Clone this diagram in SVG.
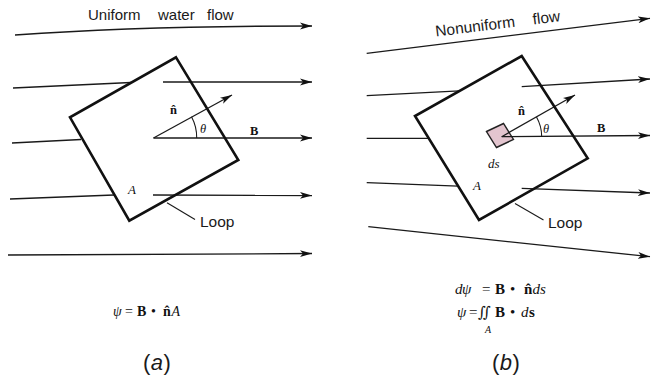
<svg xmlns="http://www.w3.org/2000/svg" width="651" height="376" viewBox="0 0 651 376">
<defs>
<style>
.fl{fill:none;stroke:#1a1a1a;stroke-width:1.3}
.ar{marker-end:url(#ah)}
.loop{fill:none;stroke:#111;stroke-width:2.6;stroke-linejoin:miter}
.thin{fill:none;stroke:#1a1a1a;stroke-width:1.1}
.sans{font-family:"Liberation Sans",Arial,sans-serif;fill:#1a1a1a}
.ser{font-family:"Liberation Serif","DejaVu Serif",serif;fill:#111}
.b{font-weight:bold}
.i{font-style:italic}
</style>
<marker id="ah" markerWidth="13" markerHeight="8" refX="12" refY="4" orient="auto" markerUnits="userSpaceOnUse">
<path d="M0,0.6 L12,4 L0,7.4 L3,4 Z" fill="#111"/>
</marker>
</defs>
<rect width="651" height="376" fill="#fff"/>

<!-- Panel (a) -->
<g id="connectors-a">
<path class="fl ar" d="M15,35 Q140,26 312,26"/>
<path class="fl" d="M13,88 L131,82.5"/>
<path class="fl ar" d="M163,82 L312,82"/>
<path class="fl" d="M12,143 L81,139.5"/>
<path class="fl ar" d="M153.5,138 L312,138"/>
<path class="fl" d="M10,199 L114,195"/>
<path class="fl ar" d="M153,195 L312,195.5"/>
<path class="fl ar" d="M8,255 L312,253.5"/>
<path class="fl ar" d="M153.5,138 L232,95"/>
<path class="thin" d="M191.5,116.7 A43.4,43.4 0 0 1 196.7,138"/>
<path class="thin" d="M167,202.7 L195,219.5"/>
</g>
<g id="loop-a">
<polygon class="loop" points="176,57.3 238.3,160 129.3,220.7 70,117.3"/>
</g>
<g id="labels-a">
<text class="sans" font-size="15" y="20"><tspan x="88">Uniform</tspan><tspan x="158">water</tspan><tspan x="207">flow</tspan></text>
<text class="ser b" font-size="12.5" x="170" y="113.5">n̂</text>
<text class="ser i" font-size="12.5" x="200" y="133">θ</text>
<text class="ser b" font-size="12.5" x="250" y="135">B</text>
<text class="ser i" font-size="13" x="128" y="193.5">A</text>
<text class="sans" font-size="15.5" x="200" y="227">Loop</text>
<text class="ser" font-size="14" y="316"><tspan class="i" x="113">ψ</tspan><tspan x="125">=</tspan><tspan class="b" x="137">B</tspan><tspan x="151">•</tspan><tspan class="b" x="163">n̂</tspan><tspan class="i" x="171.5">A</tspan></text>
<text class="sans" font-size="22" x="143" y="370" letter-spacing="0.5">(<tspan class="i">a</tspan>)</text>
</g>

<!-- Panel (b) -->
<g id="ds-element">
<polygon points="486.5,131.5 503.5,123.5 513.5,139.5 496.5,147.5" fill="#e3c5cf" stroke="#222" stroke-width="1.4"/>
</g>
<g id="connectors-b">
<path class="fl ar" d="M366.7,53.3 L650,18.3"/>
<path class="fl" d="M366.7,95.7 L459.5,90.8"/>
<path class="fl ar" d="M521.7,86.7 L650,79"/>
<path class="fl" d="M366.7,138.3 L428.5,138.3"/>
<path class="fl ar" d="M501.7,136.7 L650,135.5"/>
<path class="fl" d="M366.7,182.7 L458,186.2"/>
<path class="fl ar" d="M521.7,188.3 L650,193"/>
<path class="fl ar" d="M368.3,226.7 L650,256.7"/>
<path class="fl ar" d="M501.7,136.7 L575,95"/>
<path class="thin" d="M536.5,117 A40,40 0 0 1 541.7,136.7"/>
<path class="thin" d="M515,203.5 L543.5,220"/>
</g>
<g id="loop-b">
<polygon class="loop" points="521.7,56 587.7,158.3 479,220 415,116"/>
</g>
<g id="labels-b">
<text class="sans" font-size="15.5" transform="translate(436,36.5) rotate(-7)"><tspan x="0">Nonuniform</tspan><tspan x="98">flow</tspan></text>
<text class="ser b" font-size="12.5" x="518" y="115">n̂</text>
<text class="ser i" font-size="12.5" x="543" y="133">θ</text>
<text class="ser b" font-size="12.5" x="597" y="132">B</text>
<text class="ser i" font-size="13" x="488" y="168">ds</text>
<text class="ser i" font-size="13" x="473" y="190">A</text>
<text class="sans" font-size="15.5" x="548" y="228">Loop</text>
<text class="ser" font-size="15" y="294"><tspan class="i" x="455">d</tspan><tspan class="i" x="462">ψ</tspan><tspan x="482">=</tspan><tspan class="b" x="495">B</tspan><tspan x="510">•</tspan><tspan class="b" x="524">n̂</tspan><tspan class="i" x="532.5">ds</tspan></text>
<text class="ser" font-size="15" y="317"><tspan class="i" x="457">ψ</tspan><tspan x="469">=</tspan><tspan x="478">∬</tspan><tspan class="b" x="495">B</tspan><tspan x="510">•</tspan><tspan class="i" x="521">d</tspan><tspan class="b" x="529">s</tspan></text>
<text class="ser i" font-size="10" x="485" y="333">A</text>
<text class="sans" font-size="22" x="492" y="370" letter-spacing="0.5">(<tspan class="i">b</tspan>)</text>
</g>
</svg>
